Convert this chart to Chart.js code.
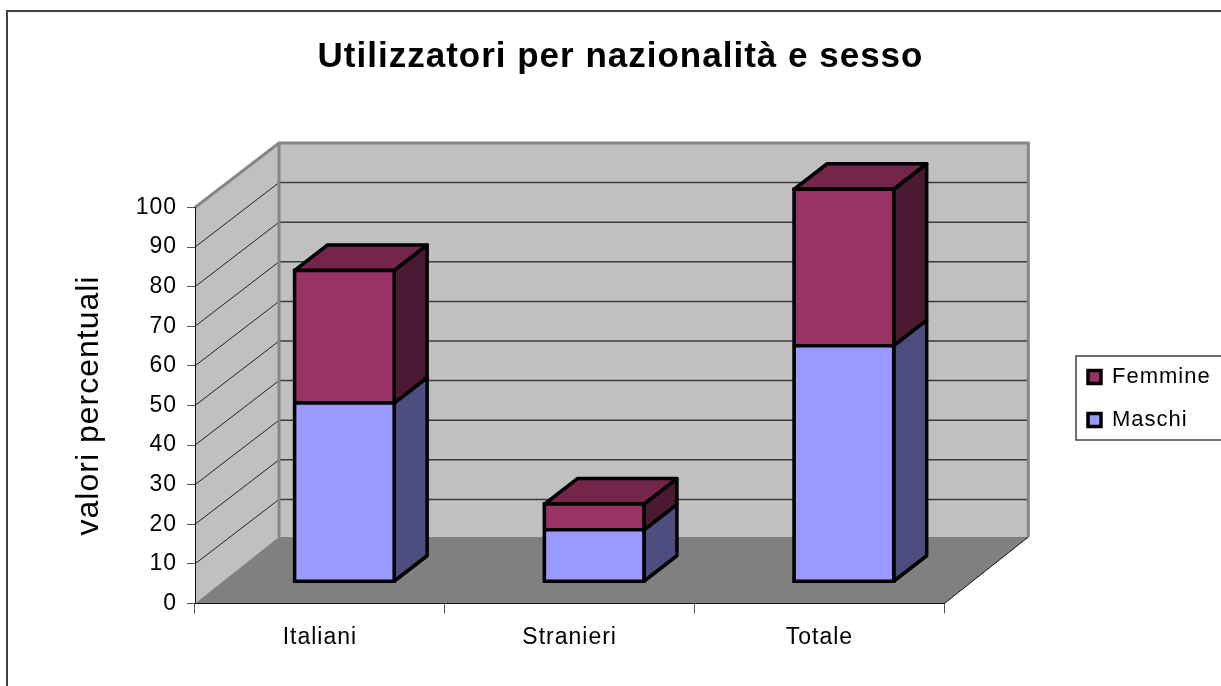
<!DOCTYPE html>
<html>
<head>
<meta charset="utf-8">
<title>Utilizzatori per nazionalità e sesso</title>
<script src="https://cdn.jsdelivr.net/npm/chart.js@4"></script>
<style>
    body { margin: 0; background: #fff; }
    canvas { display: block; }
</style>
</head>
<body>
<canvas id="ChartCanvas" width="1221" height="686"></canvas>
<script>
const categories = ['Italiani', 'Stranieri', 'Totale'];
const maschi = [46, 14, 60.5];
const femmine = [33.5, 6.5, 39.5];

Initialize();

function Initialize()
{
    const fontName = '"Liberation Sans", Arial, sans-serif';

    // Fake 3D offsets, in pixels
    const wallDepth = { x: 84, y: -64.5 };
    const barShift = { x: 24.5, y: -20 };
    const barDepth = { x: 33, y: -25.5 };
    const barLine = 3.5;

    // Outer frame, walls, floor and grid lines go under the axes
    function drawBackground(chart)
    {
        const ctx = chart.ctx;
        const area = chart.chartArea;
        const yScale = chart.scales.y;
        const front = area.bottom;

        ctx.save();
        ctx.fillStyle = '#ffffff';
        ctx.fillRect(0, 0, chart.width, chart.height);
        ctx.strokeStyle = '#404040';
        ctx.lineWidth = 2;
        ctx.strokeRect(7, 11, 1400, 1000);

        // left wall
        ctx.fillStyle = '#c0c0c0';
        ctx.beginPath();
        ctx.moveTo(area.left, area.top);
        ctx.lineTo(area.left + wallDepth.x, area.top + wallDepth.y);
        ctx.lineTo(area.left + wallDepth.x, front + wallDepth.y);
        ctx.lineTo(area.left, front);
        ctx.closePath();
        ctx.fill();

        // back wall
        ctx.fillRect(area.left + wallDepth.x, area.top + wallDepth.y, area.width, area.height);

        // grid lines on both walls
        yScale.ticks.forEach(function(tick) {
            if (tick.value === 0 || tick.value === 100) return;
            const y = yScale.getPixelForValue(tick.value);
            ctx.strokeStyle = '#222222';
            ctx.lineWidth = 1;
            ctx.beginPath();
            ctx.moveTo(area.left, y);
            ctx.lineTo(area.left + wallDepth.x, y + wallDepth.y);
            ctx.stroke();
            ctx.lineWidth = 1.5;
            ctx.strokeStyle = '#3a3a3a';
            ctx.beginPath();
            ctx.moveTo(area.left + wallDepth.x, y + wallDepth.y);
            ctx.lineTo(area.right + wallDepth.x, y + wallDepth.y);
            ctx.stroke();
        });

        // floor
        ctx.fillStyle = '#808080';
        ctx.beginPath();
        ctx.moveTo(area.left, front);
        ctx.lineTo(area.right, front);
        ctx.lineTo(area.right + wallDepth.x, front + wallDepth.y - 2);
        ctx.lineTo(area.left + wallDepth.x, front + wallDepth.y - 2);
        ctx.closePath();
        ctx.fill();

        // thin edge at the right of the floor
        ctx.strokeStyle = '#111111';
        ctx.lineWidth = 1;
        ctx.beginPath();
        ctx.moveTo(area.right, front);
        ctx.lineTo(area.right + wallDepth.x, front + wallDepth.y - 2);
        ctx.stroke();

        // grey wall outline
        ctx.strokeStyle = '#868686';
        ctx.lineWidth = 3;
        ctx.beginPath();
        ctx.moveTo(area.left, area.top);
        ctx.lineTo(area.left + wallDepth.x, area.top + wallDepth.y);
        ctx.lineTo(area.right + wallDepth.x, area.top + wallDepth.y);
        ctx.lineTo(area.right + wallDepth.x, front + wallDepth.y - 2);
        ctx.moveTo(area.left + wallDepth.x, area.top + wallDepth.y);
        ctx.lineTo(area.left + wallDepth.x, front + wallDepth.y - 2);
        ctx.stroke();

        // legend box
        const legend = chart.legend;
        ctx.fillStyle = '#ffffff';
        ctx.strokeStyle = '#404040';
        ctx.lineWidth = 1.5;
        ctx.fillRect(legend.left + 9, legend.top + 11, 200, 84);
        ctx.strokeRect(legend.left + 9, legend.top + 11, 200, 84);
        ctx.restore();
    }

    // Side and top faces of one stacked piece, behind its front face
    function drawBarSides(ctx, bar, sideColor, topColor)
    {
        const right = bar.x + bar.width / 2 - barLine / 2;
        const left = bar.x - bar.width / 2 + barLine / 2;
        const top = bar.y + barLine / 2;
        // the upper piece shares its bottom line with the top line of the lower one
        const bottom = topColor ? bar.base + barLine / 2 : bar.base - barLine / 2;

        ctx.lineWidth = barLine;
        ctx.strokeStyle = '#000000';
        ctx.lineJoin = 'round';

        ctx.fillStyle = sideColor;
        ctx.beginPath();
        ctx.moveTo(right, top);
        ctx.lineTo(right + barDepth.x, top + barDepth.y);
        ctx.lineTo(right + barDepth.x, bottom + barDepth.y);
        ctx.lineTo(right, bottom);
        ctx.closePath();
        ctx.fill();
        ctx.stroke();

        if (topColor) {
            ctx.fillStyle = topColor;
            ctx.beginPath();
            ctx.moveTo(left, top);
            ctx.lineTo(left + barDepth.x, top + barDepth.y);
            ctx.lineTo(right + barDepth.x, top + barDepth.y);
            ctx.lineTo(right, top);
            ctx.closePath();
            ctx.fill();
            ctx.stroke();
        }

        // black under the front face, hides the seam between border and fill
        ctx.fillStyle = '#000000';
        ctx.fillRect(bar.x - bar.width / 2, bar.y, bar.width, bar.base - bar.y);
    }

    const fake3d = {
        id: 'fake3d',
        beforeUpdate: function(chart) {
            chart.ctx.letterSpacing = '1px';
        },
        afterLayout: function(chart) {
            // legend sits closer to the right edge than the library puts it
            const legend = chart.legend;
            const h = legend.height;
            legend.left = 1067;
            legend.right = 1067 + legend.width;
            legend.top = 345;
            legend.bottom = 345 + h;
        },
        beforeDraw: drawBackground,
        beforeDatasetsDraw: function(chart) {
            const ctx = chart.ctx;
            ctx.save();
            ctx.translate(barShift.x, barShift.y);
            chart.getDatasetMeta(0).data.forEach(function(bar) {
                drawBarSides(ctx, bar, '#4d4d80', null);
            });
            chart.getDatasetMeta(1).data.forEach(function(bar) {
                drawBarSides(ctx, bar, '#4c1933', '#732649');
            });
        },
        afterDatasetsDraw: function(chart) {
            chart.ctx.restore();
        }
    };

    const ctx = document.getElementById('ChartCanvas').getContext('2d');
    new Chart(ctx, {
        type: 'bar',
        plugins: [fake3d],
        data: {
            labels: categories,
            datasets: [
                {
                    label: 'Maschi',
                    data: maschi,
                    backgroundColor: '#9999ff',
                    borderColor: '#000000',
                    borderWidth: barLine,
                    borderSkipped: false
                },
                {
                    label: 'Femmine',
                    data: femmine,
                    backgroundColor: '#993366',
                    borderColor: '#000000',
                    borderWidth: barLine,
                    borderSkipped: 'start'
                }
            ]
        },
        options: {
            responsive: false,
            animation: false,
            events: [],
            barPercentage: 0.4125,
            categoryPercentage: 1,
            clip: false,
            layout: { padding: { left: 20, right: 0, top: 0, bottom: 0 } },
            scales: {
                x: {
                    stacked: true,
                    grid: { drawOnChartArea: false, tickLength: 10, color: '#555555' },
                    border: { color: '#111111', width: 1 },
                    ticks: {
                        color: '#000000',
                        font: { family: fontName, size: 23 },
                        padding: 10,
                        maxRotation: 0
                    },
                    afterFit: function(scale) { scale.height = 82.5; }
                },
                y: {
                    stacked: true,
                    min: 0,
                    max: 100,
                    grid: { drawOnChartArea: false, tickLength: 8, color: '#555555' },
                    border: { color: '#111111', width: 1 },
                    ticks: {
                        stepSize: 10,
                        color: '#000000',
                        font: { family: fontName, size: 23 },
                        padding: 10
                    },
                    title: {
                        display: true,
                        text: 'valori percentuali',
                        color: '#000000',
                        font: { family: fontName, size: 32, weight: 'normal' },
                        padding: { top: 50, bottom: 0 }
                    },
                    afterFit: function(scale) { scale.width = 175; }
                },
                // empty scale, only keeps the gap between plot and legend
                spacer: {
                    position: 'right',
                    display: true,
                    grid: { display: false },
                    border: { display: false },
                    ticks: { display: false },
                    afterFit: function(scale) { scale.width = 123; }
                }
            },
            plugins: {
                title: {
                    display: true,
                    text: 'Utilizzatori per nazionalità e sesso',
                    color: '#000000',
                    font: { family: fontName, size: 35, weight: 'bold', lineHeight: 1.2 },
                    padding: { top: 36, bottom: 129.5 }
                },
                legend: {
                    display: true,
                    position: 'right',
                    align: 'start',
                    reverse: true,
                    labels: {
                        color: '#000000',
                        font: { family: fontName, size: 22 },
                        boxWidth: 13,
                        boxHeight: 13,
                        padding: 21
                    }
                },
                tooltip: { enabled: false }
            }
        }
    });
}
</script>
</body>
</html>
